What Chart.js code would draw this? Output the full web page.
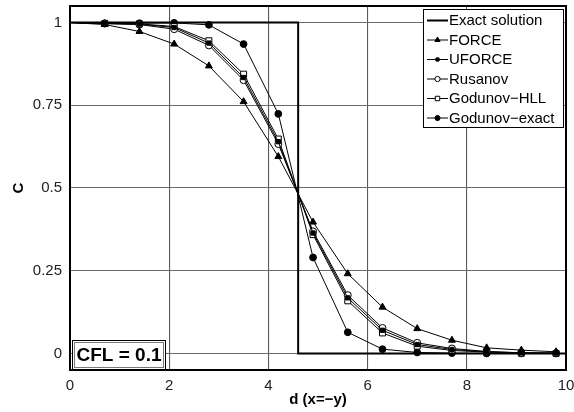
<!DOCTYPE html>
<html><head><meta charset="utf-8">
<script src="https://cdn.jsdelivr.net/npm/chart.js@4.4.0/dist/chart.umd.min.js"></script>
<style>html,body{margin:0;padding:0;background:#fff}#wrap{width:574px;height:412px}</style>
</head><body><div id="wrap"><canvas id="c" width="574" height="412"></canvas></div>
<script>
// ---- data ----
const xValues = [0, 0.7, 1.4, 2.1, 2.8, 3.5, 4.2, 4.9, 5.6, 6.3, 7.0, 7.7, 8.4, 9.1, 9.8];
const forceValues = [1, 0.994, 0.973, 0.935, 0.869, 0.761, 0.595, 0.397, 0.241, 0.140, 0.075, 0.040, 0.017, 0.010, 0.005];
const uforceValues = [1, 0.997, 0.995, 0.985, 0.938, 0.834, 0.640, 0.364, 0.168, 0.070, 0.027, 0.012, 0.005, 0.002, 0.001];
const rusanovValues = [1, 0.997, 0.994, 0.980, 0.931, 0.826, 0.633, 0.369, 0.176, 0.077, 0.032, 0.015, 0.006, 0.002, 0.001];
const hllValues = [1, 0.997, 0.996, 0.988, 0.945, 0.844, 0.648, 0.359, 0.159, 0.062, 0.022, 0.009, 0.004, 0.001, 0.000];
const godunovExactValues = [1, 0.998, 0.998, 0.999, 0.993, 0.935, 0.724, 0.290, 0.064, 0.013, 0.003, 0.001, 0.000, 0.000, 0.000];
const exactX = [0, 4.6, 4.6, 10];
const exactY = [1, 1, 0, 0];
const xTicks = [0, 2, 4, 6, 8, 10];
const yTicks = [0, 0.25, 0.5, 0.75, 1];
const seriesLabels = ['Exact solution', 'FORCE', 'UFORCE', 'Rusanov', 'Godunov\u2212HLL', 'Godunov\u2212exact'];
const cflText = 'CFL = 0.1';
const xTitle = 'd (x=\u2212y)';
const yTitle = 'C';

const FONT = "'Liberation Sans', Arial, sans-serif";
const pts = (xs, ys) => xs.map((x, i) => ({x: x, y: ys[i]}));
const rad = r => (ctx => ctx.dataIndex === 0 ? 0 : r);

function mkSeries(label, ys, style, r, fill) {
  return {
    label: label, data: pts(xValues, ys), borderColor: '#000', borderWidth: 1,
    pointStyle: style, pointRadius: rad(r), pointHoverRadius: rad(r),
    pointBackgroundColor: fill, pointBorderColor: '#000', pointBorderWidth: 1,
    _legendStyle: style, _legendR: r, _legendFill: fill, tension: 0
  };
}

const datasets = [
  {label: seriesLabels[0], data: pts(exactX, exactY), borderColor: '#000', borderWidth: 2, pointRadius: 0, _legendStyle: null},
  mkSeries(seriesLabels[1], forceValues, 'triangle', 4, '#000'),
  mkSeries(seriesLabels[2], uforceValues, 'rect', 3, '#000'),
  mkSeries(seriesLabels[3], rusanovValues, 'circle', 3.5, '#fff'),
  mkSeries(seriesLabels[4], hllValues, 'rect', 4.2, '#fff'),
  mkSeries(seriesLabels[5], godunovExactValues, 'circle', 3.4, '#000')
];

function drawMarker(ctx, style, x, y, r, fill) {
  ctx.beginPath();
  if (style === 'circle') ctx.arc(x, y, r, 0, Math.PI * 2);
  else if (style === 'rect') { const s = r * Math.SQRT1_2; ctx.rect(x - s, y - s, 2 * s, 2 * s); }
  else if (style === 'triangle') {
    let a = 0;
    ctx.moveTo(x + Math.sin(a) * r, y - Math.cos(a) * r);
    a += 2 * Math.PI / 3; ctx.lineTo(x + Math.sin(a) * r, y - Math.cos(a) * r);
    a += 2 * Math.PI / 3; ctx.lineTo(x + Math.sin(a) * r, y - Math.cos(a) * r);
    ctx.closePath();
  }
  ctx.fillStyle = fill; ctx.fill();
  ctx.lineWidth = 1; ctx.strokeStyle = '#000'; ctx.stroke();
}

const overlay = {
  id: 'overlay',
  afterDatasetsDraw(chart) {
    const ctx = chart.ctx, a = chart.chartArea;
    ctx.save();
    // frame
    ctx.strokeStyle = '#000'; ctx.lineWidth = 2;
    ctx.strokeRect(a.left, a.top, a.right - a.left, a.bottom - a.top);
    // legend
    const lx = 423.5, ly = 9.5, lw = 140, lh = 118;
    ctx.fillStyle = '#fff'; ctx.fillRect(lx, ly, lw, lh);
    ctx.lineWidth = 1; ctx.strokeStyle = '#000'; ctx.strokeRect(lx, ly, lw, lh);
    ctx.font = '15px ' + FONT; ctx.textBaseline = 'middle'; ctx.textAlign = 'left';
    chart.data.datasets.forEach((ds, i) => {
      const y = 20.5 + i * 19.5;
      ctx.beginPath(); ctx.moveTo(427, y); ctx.lineTo(448, y);
      ctx.lineWidth = ds.borderWidth; ctx.strokeStyle = '#000'; ctx.stroke();
      if (ds._legendStyle) drawMarker(ctx, ds._legendStyle, 437.5, y, ds._legendR * 0.75, ds._legendFill);
      ctx.fillStyle = '#000'; ctx.fillText(ds.label, 449, y + 0.5);
    });
    // CFL box
    ctx.fillStyle = '#fff'; ctx.fillRect(72.5, 340.5, 93, 29);
    ctx.lineWidth = 1; ctx.strokeStyle = '#000'; ctx.strokeRect(72.5, 340.5, 93, 29);
    ctx.strokeStyle = '#777'; ctx.strokeRect(74.5, 342.5, 89, 25);
    ctx.fillStyle = '#000'; ctx.font = 'bold 19px ' + FONT; ctx.textAlign = 'center';
    ctx.fillText(cflText, 119, 356);
    ctx.restore();
  }
};

function noPad(s) { s.paddingLeft = 0; s.paddingRight = 0; s.paddingTop = 0; s.paddingBottom = 0; }

new Chart(document.getElementById('c'), {
  type: 'line',
  data: {datasets: datasets},
  plugins: [overlay],
  options: {
    responsive: false, animation: false, devicePixelRatio: 1,
    layout: {padding: {left: 0, right: 8, top: 6, bottom: 0}},
    plugins: {legend: {display: false}, tooltip: {enabled: false}},
    elements: {line: {tension: 0}},
    scales: {
      x: {
        type: 'linear', min: 0, max: 10,
        afterBuildTicks: s => { s.ticks = xTicks.map(v => ({value: v})); },
        afterFit: s => { s.height = 42; noPad(s); },
        grid: {color: '#5a5a5a', lineWidth: 1.1, drawTicks: false},
        border: {display: false},
        ticks: {padding: 7, color: '#222', font: {family: FONT, size: 15}, maxRotation: 0},
        title: {display: true, text: xTitle, color: '#000', font: {family: FONT, size: 15, weight: 'bold'}, padding: {top: 0, bottom: 3}}
      },
      y: {
        type: 'linear', min: -0.05, max: 1.05,
        afterBuildTicks: s => { s.ticks = yTicks.map(v => ({value: v})); },
        afterFit: s => { s.width = 70; noPad(s); },
        grid: {color: '#6a6a6a', lineWidth: 1.1, drawTicks: false},
        border: {display: false},
        ticks: {padding: 8, color: '#222', font: {family: FONT, size: 15}, callback: v => String(v)},
        title: {display: true, text: yTitle, color: '#000', font: {family: FONT, size: 15, weight: 'bold'}, padding: {top: 10, bottom: 0}}
      }
    }
  }
});
</script></body></html>
